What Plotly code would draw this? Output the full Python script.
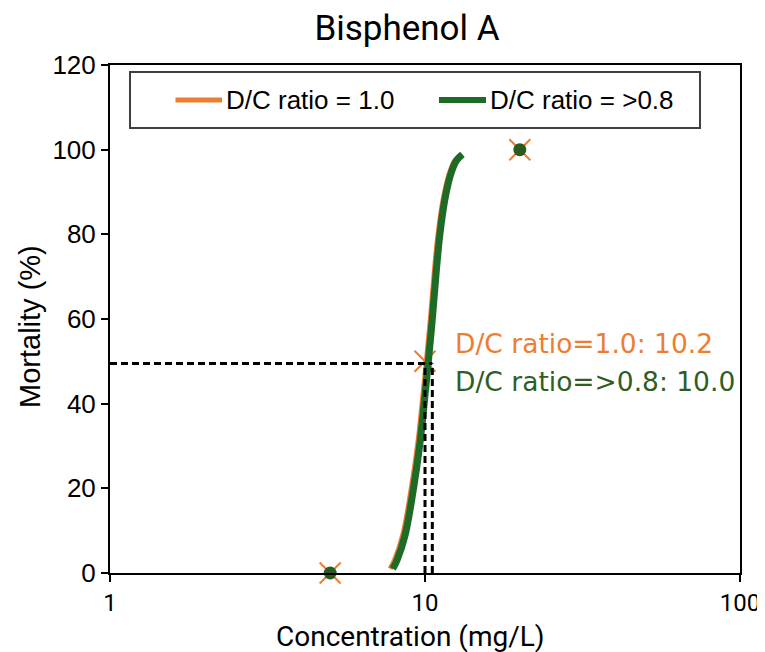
import plotly.graph_objects as go

# Observed data
obs_conc = [5, 10, 20]
obs_mort = [0, 50, 100]
obs_conc_green = [5, 20]
obs_mort_green = [0, 100]

# Fitted curves
fit_orange_x = [7.75, 8.0, 8.5, 9.0, 9.5, 9.85, 10.1, 10.4, 10.7, 11.0, 11.4, 11.9, 12.4, 13.0]
fit_orange_y = [1, 3, 9, 19, 31, 42, 50, 60, 71, 80, 88, 94, 97.3, 98.9]
fit_green_x = [7.9, 8.15, 8.65, 9.15, 9.65, 10.0, 10.25, 10.55, 10.85, 11.15, 11.55, 12.05, 12.55, 13.15]
fit_green_y = [1, 3, 9, 19, 31, 42, 50, 60, 71, 80, 88, 94, 97.3, 98.9]

# LC50 guide lines (positions as drawn in the picture)
lc50_guide_x = [10.55, 10.0]
lc50_level = 49.5
labels = ["D/C ratio = 1.0", "D/C ratio = >0.8"]
ann_texts = ["D/C ratio=1.0: 10.2", "D/C ratio=>0.8: 10.0"]
x_ticks = [1, 10, 100]

ORANGE = "#ED7D31"
GREEN = "#1D6B26"
GREEN_DOT = "#295A1F"
GREEN_TXT = "#2E5E24"

# page has an 8px body margin; work in screen pixels and convert
OFF = 8
W, H = 757, 644
PL, PT, PW, PH = 110 - OFF, 65 - OFF, 630, 508


def px(xs):
    return (xs - 110) / PW


def py(ys):
    return (573 - ys) / PH


fig = go.Figure()

# observed markers
fig.add_trace(go.Scatter(x=obs_conc, y=obs_mort, mode="markers", showlegend=False,
                         marker=dict(symbol="x-thin", size=21, line=dict(color=ORANGE, width=2)),
                         cliponaxis=False, hoverinfo="skip"))
fig.add_trace(go.Scatter(x=obs_conc_green, y=obs_mort_green, mode="markers", showlegend=False,
                         marker=dict(symbol="circle", size=13, color=GREEN_DOT),
                         cliponaxis=False, hoverinfo="skip"))

# fitted curves
fig.add_trace(go.Scatter(x=fit_orange_x, y=fit_orange_y, mode="lines", name=labels[0], showlegend=False,
                         line=dict(color=ORANGE, width=5, shape="spline"), cliponaxis=False))
fig.add_trace(go.Scatter(x=fit_green_x, y=fit_green_y, mode="lines", name=labels[1], showlegend=False,
                         line=dict(color=GREEN, width=7, shape="spline"), cliponaxis=False))

# LC50 dashed guides
fig.add_trace(go.Scatter(x=[1, max(lc50_guide_x)], y=[lc50_level, lc50_level], mode="lines",
                         showlegend=False, line=dict(color="black", width=3, dash="7px,4px"),
                         cliponaxis=False, hoverinfo="skip"))
for v in lc50_guide_x:
    fig.add_trace(go.Scatter(x=[v, v], y=[0, lc50_level], mode="lines", showlegend=False,
                             line=dict(color="black", width=3, dash="7px,4px"),
                             cliponaxis=False, hoverinfo="skip"))

# annotations
fig.add_annotation(x=px(453), y=py(343), xref="paper", yref="paper", text=ann_texts[0],
                   showarrow=False, xanchor="left", yanchor="middle",
                   font=dict(family="DejaVu Sans", size=26.5, color=ORANGE))
fig.add_annotation(x=px(453), y=py(381), xref="paper", yref="paper", text=ann_texts[1],
                   showarrow=False, xanchor="left", yanchor="middle",
                   font=dict(family="DejaVu Sans", size=26.5, color=GREEN_TXT))

# axis titles
fig.add_annotation(x=px(410), y=py(636), xref="paper", yref="paper", text="Concentration (mg/L)",
                   showarrow=False, xanchor="center", yanchor="middle",
                   font=dict(family="Roboto", size=28, color="black"))
fig.add_annotation(x=px(30), y=py(327), xref="paper", yref="paper", text="Mortality (%)", textangle=-90,
                   showarrow=False, xanchor="center", yanchor="middle",
                   font=dict(family="Liberation Sans", size=29, color="black"))

# manual legend
fig.add_shape(type="rect", xref="paper", yref="paper", x0=px(130), x1=px(700), y0=py(128), y1=py(72),
              line=dict(color="#404040", width=2), fillcolor="white", layer="above")
leg_y = py(100)
for (x0p, x1p, txp), col, lw, lab in [((175.5, 222, 224), ORANGE, 5, labels[0]),
                                       ((439, 486, 488), GREEN, 6, labels[1])]:
    fig.add_shape(type="line", xref="paper", yref="paper", x0=px(x0p), x1=px(x1p),
                  y0=leg_y, y1=leg_y, line=dict(color=col, width=lw))
    fig.add_annotation(x=px(txp), y=leg_y, xref="paper", yref="paper", text=lab,
                       showarrow=False, xanchor="left", yanchor="middle",
                       font=dict(family="Liberation Sans", size=26, color="black"))

fig.update_layout(
    width=W, height=H,
    margin=dict(l=PL, r=W - PL - PW, t=PT, b=H - PT - PH, pad=0),
    paper_bgcolor="white", plot_bgcolor="white",
    title=dict(text="Bisphenol A", x=(407 - OFF) / W, xanchor="center", y=1 - (28 - OFF) / H, yanchor="middle",
               font=dict(family="Roboto", size=35, color="black")),
    showlegend=False,
)
fig.update_xaxes(type="log", range=[0, 2], tickvals=x_ticks, ticktext=[str(t) for t in x_ticks],
                 showgrid=False, zeroline=False, showline=True, linecolor="black", linewidth=2,
                 mirror=True, ticks="outside", ticklen=7, tickwidth=2, tickcolor="black",
                 automargin=False,
                 tickfont=dict(family="Roboto", size=24, color="black"))
fig.update_yaxes(range=[0, 120], dtick=20, showgrid=False, zeroline=False, showline=True,
                 linecolor="black", linewidth=2, mirror=True, ticks="outside", ticklen=7,
                 tickwidth=2, tickcolor="black", automargin=False,
                 tickfont=dict(family="Liberation Sans", size=26, color="black"))

fig.write_html("out.html")
